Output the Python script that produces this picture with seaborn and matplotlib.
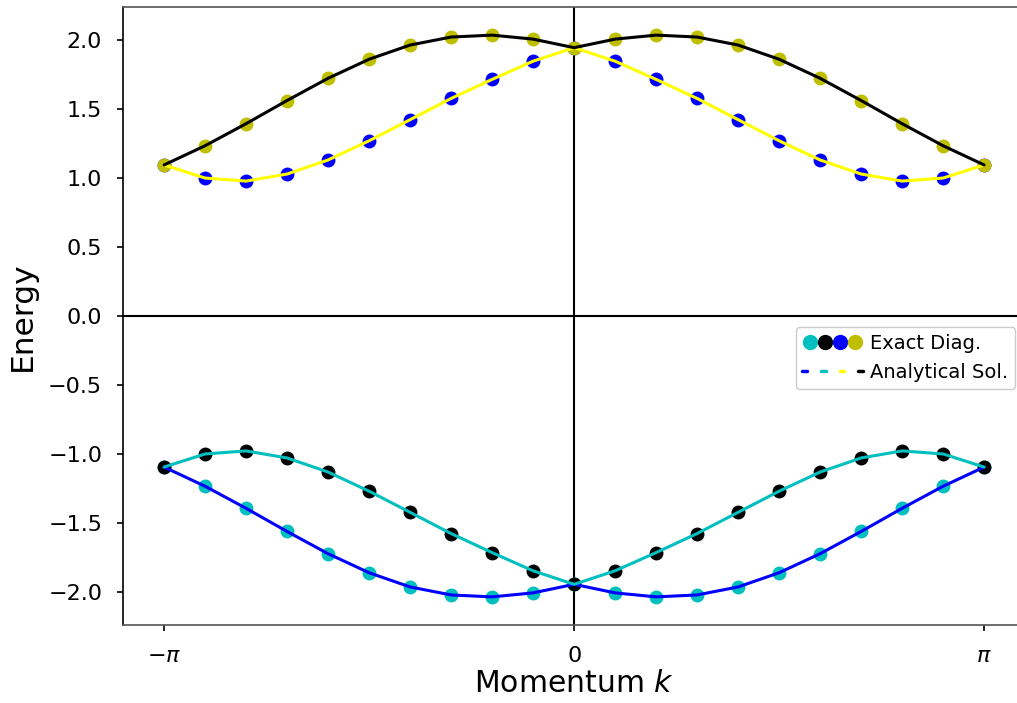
import numpy as np
import pandas as pd
import matplotlib
matplotlib.use("Agg")
import matplotlib.pyplot as plt
import seaborn as sns
from matplotlib.legend_handler import HandlerTuple
from matplotlib.lines import Line2D

# k grid index n: k = n*pi/10, n = -10..10
n_vals = list(range(-10, 11))

# upper half (k from -pi to 0), symmetric for k>0
band1_half = [1.095, 1.234, 1.394, 1.562, 1.723, 1.861, 1.964, 2.022, 2.036, 2.007, 1.945]
band2_half = [1.095, 1.000, 0.978, 1.029, 1.131, 1.270, 1.423, 1.577, 1.715, 1.847, 1.945]

band1 = band1_half + band1_half[-2::-1]
band2 = band2_half + band2_half[-2::-1]
band3 = [-v for v in band2]
band4 = [-v for v in band1]

k = np.array(n_vals) * np.pi / 10

sns.set_style("ticks")
plt.rcParams['font.family'] = ['DejaVu Sans']
plt.rcParams['text.color'] = 'black'
plt.rcParams['axes.labelcolor'] = 'black'
plt.rcParams['xtick.color'] = 'black'
plt.rcParams['ytick.color'] = 'black'

fig = plt.figure(figsize=(10.17, 7.03), dpi=100)
ax = fig.add_axes([0.121, 0.111, 0.887, 0.879])

df = pd.DataFrame({"k": k, "b1": band1, "b2": band2, "b3": band3, "b4": band4})

# exact diag points
pt_colors = {"b4": "c", "b3": "k", "b2": "b", "b1": "y"}
for col, c in pt_colors.items():
    sns.scatterplot(data=df, x="k", y=col, color=c, s=100, linewidth=0, ax=ax, zorder=2)

# analytical lines
ln_colors = {"b4": "b", "b3": "c", "b2": "yellow", "b1": "k"}
for col, c in ln_colors.items():
    sns.lineplot(data=df, x="k", y=col, color=c, linewidth=2.2, ax=ax, zorder=3)

ax.axhline(0, color="k", linewidth=1.5, zorder=1)
ax.axvline(0, color="k", linewidth=1.5, zorder=1)

ax.set_xticks([-np.pi, 0, np.pi])
ax.set_xticklabels([r"$-\pi$", "$0$", r"$\pi$"])
yt = [-2.0, -1.5, -1.0, -0.5, 0.0, 0.5, 1.0, 1.5, 2.0]
ax.set_yticks(yt)
ax.set_yticklabels([f"{v:.1f}".replace("-", "\u2212") for v in yt])
ax.tick_params(labelsize=16, length=4, width=1.2, pad=11)
ax.set_xlabel(r"Momentum $k$", fontsize=21.5, labelpad=2)
ax.set_ylabel("Energy", fontsize=22.5, labelpad=8)
for name, s in ax.spines.items():
    s.set_color("#555555" if name != "left" else "black")
    s.set_linewidth(1.2)

pts = tuple(Line2D([], [], marker="o", linestyle="none", markersize=11, color=c, markeredgewidth=0)
            for c in ["c", "k", "b", "y"])
lns = tuple(Line2D([], [], color=c, linewidth=2.5) for c in ["b", "c", "yellow", "k"])
ax.legend([pts, lns], ["Exact Diag.", "Analytical Sol."],
          handler_map={pts: HandlerTuple(ndivide=None, pad=0.0),
                       lns: HandlerTuple(ndivide=None, pad=0.72)},
          loc="center right", bbox_to_anchor=(1.0, 0.432), fontsize=14,
          handlelength=3.1, handletextpad=0.4, borderpad=0.35, labelspacing=0.5,
          framealpha=1)

fig.savefig("out.png", dpi=100)
